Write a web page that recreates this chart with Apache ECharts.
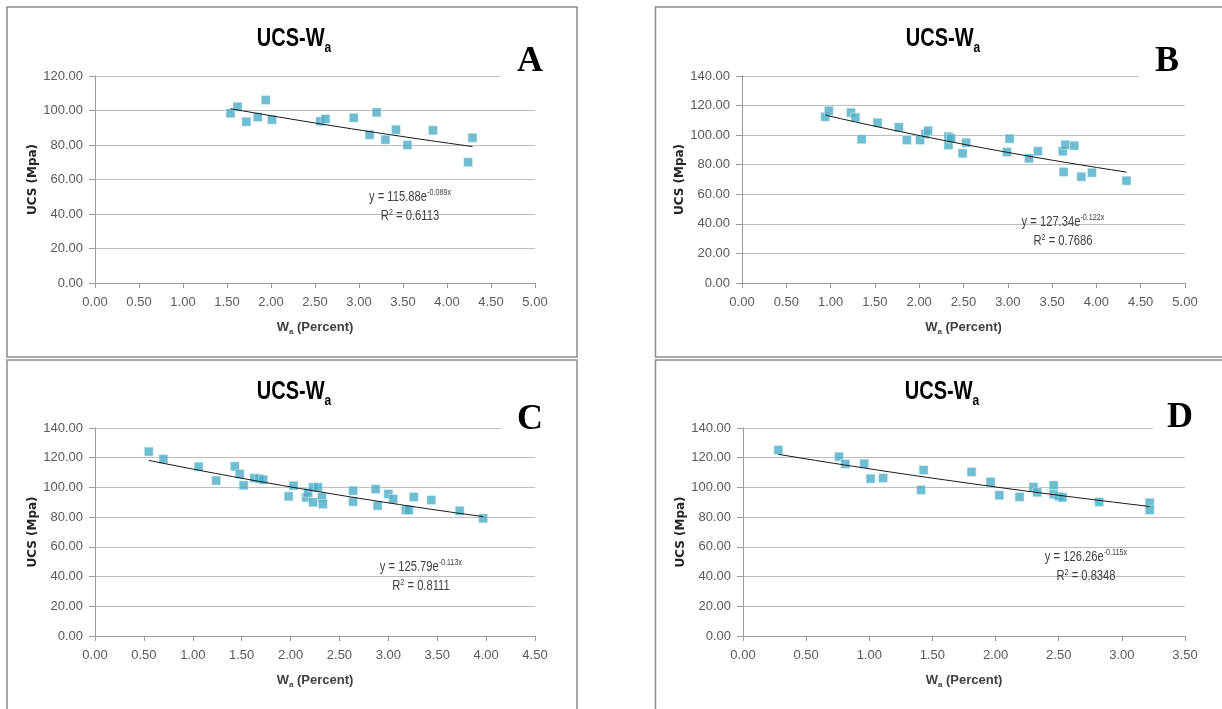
<!DOCTYPE html>
<html lang="en">
<head>
  <meta charset="UTF-8">
  <title>UCS-Wa</title>
  <script src="https://cdn.jsdelivr.net/npm/echarts@6/dist/echarts.min.js"></script>
  <style>
    html, body { margin: 0; padding: 0; background: #fff; }
  </style>
</head>
<body>
<div id="main" style="width: 1222px;height:709px;"></div>
<script type="text/javascript">
  // measured points, Wa (percent) vs UCS (Mpa)
  var aX = [1.54, 1.62, 1.72, 1.85, 1.94, 2.01, 2.56, 2.62, 2.94, 3.12, 3.20, 3.30, 3.42, 3.55, 3.84, 4.24, 4.29];
  var aY = [98.4, 102.2, 93.5, 96.2, 106.1, 94.7, 93.7, 95.1, 95.8, 85.9, 98.9, 83.1, 88.9, 80.0, 88.5, 70.0, 84.2];

  var bX = [0.94, 0.98, 1.23, 1.28, 1.35, 1.53, 1.77, 1.86, 2.01, 2.07, 2.10, 2.33, 2.33, 2.36, 2.49, 2.53, 2.99, 3.02, 3.24, 3.34, 3.62, 3.65, 3.63, 3.75, 3.83, 3.95, 4.34];
  var bY = [112.4, 116.5, 115.2, 112.0, 97.2, 108.4, 105.3, 96.7, 96.7, 100.8, 103.0, 99.0, 93.3, 97.8, 87.7, 94.9, 88.6, 97.6, 84.3, 89.1, 89.1, 93.5, 75.1, 92.9, 71.9, 74.6, 69.2];

  var cX = [0.55, 0.70, 1.06, 1.24, 1.43, 1.48, 1.52, 1.63, 1.68, 1.72, 1.98, 2.03, 2.16, 2.18, 2.23, 2.23, 2.28, 2.32, 2.33, 2.64, 2.64, 2.87, 2.89, 3.00, 3.05, 3.18, 3.21, 3.26, 3.44, 3.73, 3.97];
  var cY = [124.1, 119.1, 114.0, 104.6, 114.2, 109.0, 101.4, 106.3, 105.9, 105.2, 94.0, 101.2, 93.3, 96.5, 100.1, 90.0, 100.1, 93.3, 88.8, 97.8, 90.4, 98.9, 87.7, 95.6, 92.2, 84.8, 84.8, 93.6, 91.5, 84.3, 79.2];

  var dX = [0.28, 0.76, 0.81, 0.96, 1.01, 1.11, 1.41, 1.43, 1.81, 1.96, 2.03, 2.19, 2.30, 2.33, 2.46, 2.46, 2.50, 2.53, 2.82, 3.22, 3.22];
  var dY = [125.2, 120.7, 115.8, 116.0, 105.9, 106.3, 98.3, 111.7, 110.4, 103.7, 94.7, 93.6, 100.3, 96.7, 101.4, 95.4, 94.0, 93.3, 90.2, 89.7, 84.8];

  // exponential trendline y = a*e^(b*x) as printed on each chart
  var aFit = [115.88, -0.089], aR2 = '0.6113';
  var bFit = [127.34, -0.122], bR2 = '0.7686';
  var cFit = [125.79, -0.113], cR2 = '0.8111';
  var dFit = [126.26, -0.115], dR2 = '0.8348';

  // axis ranges
  var xMaxes = [5, 5, 4.5, 3.5];
  var yMaxes = [120, 140, 140, 140];
  var letters = ['A', 'B', 'C', 'D'];

  var font = "'Liberation Sans', Arial, sans-serif";
  var blue = '#4bacc6';
  var narrow = 0.8;   // squeeze graphic text a bit, the original uses a narrow font

  var ctx = document.createElement('canvas').getContext('2d');
  function tw(txt, f) { ctx.font = f; return ctx.measureText(txt).width; }

  // big text with a small sub/superscript after it, centred on cx
  function pair(cx, cy, big, bigFont, small, smallFont, dy, color) {
    var w1 = tw(big, bigFont) * narrow, w2 = tw(small, smallFont) * narrow;
    var x0 = cx - (w1 + w2) / 2;
    return [
      {type: 'text', x: x0, y: cy, scaleX: narrow, z: 11,
        style: {text: big, font: bigFont, fill: color, align: 'left', verticalAlign: 'middle'}},
      {type: 'text', x: x0 + w1, y: cy + dy, scaleX: narrow, z: 11,
        style: {text: small, font: smallFont, fill: color, align: 'left', verticalAlign: 'middle'}}
    ];
  }

  var panels = [
    {xs: aX, ys: aY, fit: aFit, r2: aR2, grid: {left: 95, top: 76, width: 440, height: 207},
      frame: [7, 7, 570, 350], title: [294, 39.5], letter: [530, 62], cover: [500, 40, 70, 46], eq: [410, 197]},
    {xs: bX, ys: bY, fit: bFit, r2: bR2, grid: {left: 742, top: 76, width: 443, height: 207},
      frame: [655.5, 7, 600, 350], title: [943, 39.5], letter: [1167, 62], cover: [1139, 40, 70, 46], eq: [1063, 222]},
    {xs: cX, ys: cY, fit: cFit, r2: cR2, grid: {left: 95, top: 428, width: 440, height: 208},
      frame: [7, 360, 570, 400], title: [294, 392], letter: [530, 420], cover: [501, 395, 70, 45], eq: [421, 567]},
    {xs: dX, ys: dY, fit: dFit, r2: dR2, grid: {left: 743, top: 428, width: 442, height: 208},
      frame: [655.5, 360, 600, 400], title: [942, 392], letter: [1180, 418], cover: [1153, 393, 70, 45], eq: [1086, 557]}
  ];

  var grids = [], xAxes = [], yAxes = [], series = [], graphics = [];

  panels.forEach(function (p, i) {
    grids.push(p.grid);
    xAxes.push({
      gridIndex: i, type: 'value', min: 0, max: xMaxes[i], interval: 0.5,
      axisLine: {show: true, lineStyle: {color: '#9a9a9a'}},
      axisTick: {show: true, length: 5, lineStyle: {color: '#9a9a9a'}},
      splitLine: {show: false},
      axisLabel: {formatter: function (v) { return v.toFixed(2); }, fontFamily: font, fontSize: 13, color: '#595959', margin: 13},
      name: '{m|W}{s|a}{m| (Percent)}', nameLocation: 'middle', nameGap: 38,
      nameTextStyle: {
        rich: {
          m: {fontFamily: font, fontSize: 13, fontWeight: 'bold', color: '#404040', lineHeight: 15, verticalAlign: 'top'},
          s: {fontFamily: font, fontSize: 8, fontWeight: 'bold', color: '#404040', lineHeight: 14, verticalAlign: 'bottom'}
        }
      }
    });
    yAxes.push({
      gridIndex: i, type: 'value', min: 0, max: yMaxes[i], interval: 20,
      axisLine: {show: true, lineStyle: {color: '#9a9a9a'}},
      axisTick: {show: true, length: 6, lineStyle: {color: '#9a9a9a'}},
      splitLine: {show: true, lineStyle: {color: '#bdbdbd'}},
      axisLabel: {formatter: function (v) { return v.toFixed(2); }, fontFamily: font, fontSize: 13, color: '#595959', margin: 12},
      name: 'UCS (Mpa)', nameLocation: 'middle', nameGap: 48,
      nameTextStyle: {fontFamily: 'DejaVu Sans', fontSize: 12, fontWeight: 'bold', color: '#262626'}
    });

    var pts = p.xs.map(function (x, k) { return [x, p.ys[k]]; });
    series.push({
      type: 'scatter', xAxisIndex: i, yAxisIndex: i, data: pts,
      symbol: 'rect', symbolSize: 9, itemStyle: {color: blue, borderColor: '#e8f6fa', borderWidth: 0.6},
      silent: true, z: 2
    });

    var lo = Math.min.apply(null, p.xs), hi = Math.max.apply(null, p.xs), line = [];
    for (var k = 0; k <= 20; k++) {
      var x = lo + (hi - lo) * k / 20;
      line.push([x, p.fit[0] * Math.exp(p.fit[1] * x)]);
    }
    series.push({
      type: 'line', xAxisIndex: i, yAxisIndex: i, data: line, showSymbol: false, symbol: 'none',
      lineStyle: {color: '#1a1a1a', width: 1}, silent: true, z: 3
    });

    // panel frame
    graphics.push({type: 'rect', shape: {x: p.frame[0], y: p.frame[1], width: p.frame[2], height: p.frame[3]},
      style: {fill: 'none', stroke: '#8c8c8c', lineWidth: 1.5}, z: 10});
    // white box behind the panel letter
    graphics.push({type: 'rect', shape: {x: p.cover[0], y: p.cover[1], width: p.cover[2], height: p.cover[3]},
      style: {fill: '#fff'}, z: 10});
    graphics.push({type: 'text', x: p.letter[0], y: p.letter[1], z: 11,
      style: {text: letters[i], font: 'bold 36px "Liberation Serif", serif', fill: '#000', align: 'center', verticalAlign: 'middle'}});

    // title UCS-Wa
    graphics = graphics.concat(pair(p.title[0], p.title[1], 'UCS-W', 'bold 25px ' + font,
      'a', 'bold 15px ' + font, 8.5, '#000'));

    // trendline equation and R2
    var ex = p.eq[0], ey = p.eq[1];
    graphics = graphics.concat(pair(ex, ey, 'y = ' + p.fit[0].toFixed(2) + 'e', '14px ' + font,
      p.fit[1].toFixed(3) + 'x', '9px ' + font, -4, '#404040'));
    var w1 = tw('R', '14px ' + font) * narrow, w2 = tw('2', '9px ' + font) * narrow;
    var w3 = tw(' = ' + p.r2, '14px ' + font) * narrow;
    var rx = ex - (w1 + w2 + w3) / 2;
    graphics.push(
      {type: 'text', x: rx, y: ey + 19, scaleX: narrow, z: 11,
        style: {text: 'R', font: '14px ' + font, fill: '#404040', align: 'left', verticalAlign: 'middle'}},
      {type: 'text', x: rx + w1, y: ey + 15.5, scaleX: narrow, z: 11,
        style: {text: '2', font: '9px ' + font, fill: '#404040', align: 'left', verticalAlign: 'middle'}},
      {type: 'text', x: rx + w1 + w2, y: ey + 19, scaleX: narrow, z: 11,
        style: {text: ' = ' + p.r2, font: '14px ' + font, fill: '#404040', align: 'left', verticalAlign: 'middle'}}
    );
  });

  var myChart = echarts.init(document.getElementById('main'));
  myChart.setOption({
    animation: false,
    grid: grids,
    xAxis: xAxes,
    yAxis: yAxes,
    series: series,
    graphic: graphics
  });
</script>
</body>
</html>
